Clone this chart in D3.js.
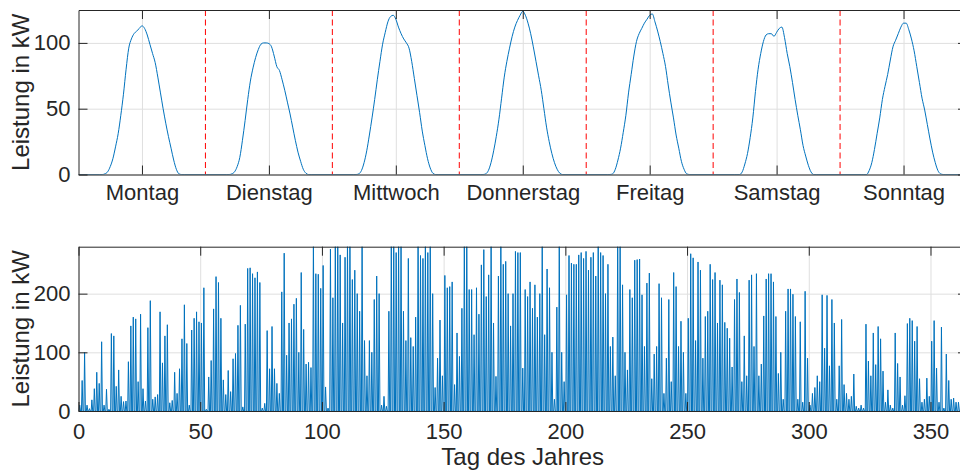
<!DOCTYPE html>
<html lang="de">
<head>
<meta charset="utf-8">
<title>Leistung</title>
<script src="https://cdn.jsdelivr.net/npm/d3@7"></script>
<style>
  body { margin:0; background:#fff; }
  svg text { font-family:"Liberation Sans", Arial, Helvetica, sans-serif; fill:#262626; }
  .grid line { stroke:#dfdfdf; stroke-width:1; }
  .grid path { display:none; }
  .axis path, .axis line { stroke:#262626; stroke-width:1; }
  .axis text { font-size:22px; }
  .label { font-size:24px; }
  .sep { stroke:#ff0000; stroke-width:1; stroke-dasharray:6,3.5; }
  .power { fill:none; stroke:#0072bd; stroke-width:1; }
</style>
</head>
<body>
<script>
// --- Wochenverlauf: Halbstundenwerte von 04:00 bis 20:00 (kW) ---
var dayNames = ["Montag", "Dienstag", "Mittwoch", "Donnerstag", "Freitag", "Samstag", "Sonntag"];
var firstHour = 4, stepHour = 0.5;
var montag     = [0,0,0.5,2,6,12,21,31,45,61,80,96,103,107,109,111,113,111,106,99,92,85,74,62,50,39,29,20,11,4,0.5,0,0];
var dienstag   = [0,0,0.5,2,6,13,26,41,57,71,81,89,95,99,100,100,99.5,97,90,82,79,72,64,55,46,36,26,17,10,4,1,0,0];
var mittwoch   = [0,0,0.5,3,9,18,30,43,57,72,86,99,108,116,120,121,118,112,107,103,100,96,86,73,60,47,33,22,12,5,1,0,0];
var donnerstag = [0,0,0.5,3,9,18,29,42,58,74,86,96,105,112,117,121,124,121,115,107,97,86,75,64,50,36,25,16,9,4,1,0,0];
var freitag    = [0,0,0.5,4,11,20,32,45,62,76,90,101,107,111,115,118,121,122,116,109,101,92,82,68,55,43,30,20,10,4,0.5,0,0];
var samstag    = [0,0,0,2,8,16,28,43,63,80,92,101,106,107,107,105,108,111,112,104,92,82,70,57,45,34,22,14,7,2,0,0,0];
var sonntag    = [0,0,0,3,9,19,31,43,57,67,76,87,97,102,107,112,115,115,110,103,94,82,70,58,49,38,27,17,9,3,0.5,0,0];
var weekDays = [montag, dienstag, mittwoch, donnerstag, freitag, samstag, sonntag];
var weekYTicks = [0, 50, 100];

// --- Jahresverlauf: Tagesspitze je Tag (kW) ---
var yearPeak = [
  10,52,100,10,4,19,38,66,47,118,
  10,37,3,132,128,42,70,25,16,17,
  84,145,160,157,50,165,38,17,142,188,
  20,24,28,169,82,128,147,14,18,66,
  30,72,123,181,115,10,138,158,169,152,
  150,210,3,58,86,174,229,219,158,53,
  28,69,33,89,98,146,180,7,148,243,
  244,234,227,237,219,5,13,137,72,144,
  72,47,30,203,269,95,150,157,182,192,
  100,236,139,80,83,74,300,234,233,209,
  248,41,5,276,193,300,300,266,150,262,
  300,300,224,240,200,170,300,120,60,120,
  100,190,230,200,10,25,8,170,300,300,
  270,300,300,170,120,260,125,110,160,300,
  265,260,300,270,300,200,40,90,155,60,
  231,210,212,220,45,133,93,175,300,300,
  207,207,130,210,165,249,275,195,232,300,
  150,59,230,300,250,255,200,145,200,272,
  270,270,73,207,195,220,175,215,160,200,
  300,130,242,210,100,20,177,300,100,50,
  198,265,252,250,250,266,270,260,272,240,
  262,270,230,300,270,265,200,250,110,126,
  60,300,300,215,100,70,207,193,257,258,
  259,198,110,218,235,55,97,110,217,193,
  30,90,190,50,236,212,110,153,100,30,
  158,268,261,120,254,240,90,161,170,250,
  224,236,150,223,215,151,141,124,75,190,
  225,202,50,128,60,223,232,110,234,60,
  80,162,225,234,234,220,161,64,100,20,
  170,208,208,199,161,20,152,15,204,90,
  10,30,40,60,50,198,107,197,77,190,
  150,20,77,156,45,30,20,25,63,8,
  5,10,5,148,85,60,133,79,144,123,
  68,15,36,10,5,133,81,58,10,26,
  149,158,154,119,144,55,15,20,56,25,
  119,154,73,15,143,5,97,52,20,22,
  15,15,20,10,8
];
var sunrise = 5, sunset = 20;   // Stunde
var yearXTicks = [0, 50, 100, 150, 200, 250, 300, 350];
var yearYTicks = [0, 100, 200];

var W = 960, H = 470;
var left = 78.5, right = 967, tickLen = 9;

var svg = d3.select("body").append("svg")
  .attr("width", W).attr("height", H);

function panel(g, x, y, xTicks, xFmt, yTicks, padX, id) {
  var x0 = x.range()[0], x1 = x.range()[1];
  var y0 = y.range()[0], y1 = y.range()[1];

  g.append("defs").append("clipPath").attr("id", id)
    .append("rect").attr("x", x0).attr("y", y1)
    .attr("width", x1 - x0).attr("height", y0 - y1);

  g.append("g").attr("class", "grid")
    .attr("transform", "translate(0," + y0 + ")")
    .call(d3.axisBottom(x).tickValues(xTicks).tickSize(-(y0 - y1)).tickFormat(""));
  g.append("g").attr("class", "grid")
    .attr("transform", "translate(" + x0 + ",0)")
    .call(d3.axisLeft(y).tickValues(yTicks).tickSize(-(x1 - x0)).tickFormat(""));

  var plot = g.append("g").attr("clip-path", "url(#" + id + ")");

  g.append("g").attr("class", "axis")
    .attr("transform", "translate(0," + y0 + ")")
    .call(d3.axisBottom(x).tickValues(xTicks).tickFormat(xFmt)
      .tickSizeInner(-tickLen).tickSizeOuter(0).tickPadding(padX));
  g.append("g").attr("class", "axis")
    .attr("transform", "translate(0," + y1 + ")")
    .call(d3.axisTop(x).tickValues(xTicks).tickFormat("")
      .tickSizeInner(-tickLen).tickSizeOuter(0));
  g.append("g").attr("class", "axis")
    .attr("transform", "translate(" + x0 + ",0)")
    .call(d3.axisLeft(y).tickValues(yTicks)
      .tickSizeInner(-tickLen).tickSizeOuter(0).tickPadding(8));
  g.append("g").attr("class", "axis")
    .attr("transform", "translate(" + x1 + ",0)")
    .call(d3.axisRight(y).tickValues(yTicks).tickFormat("")
      .tickSizeInner(-tickLen).tickSizeOuter(0));

  g.selectAll(".axis text").attr("fill", "#262626");

  g.append("text").attr("class", "label")
    .attr("transform", "translate(29," + (y0 + y1) / 2 + ") rotate(-90)")
    .attr("text-anchor", "middle")
    .text("Leistung in kW");

  return plot;
}

// ---------- oben: eine Woche ----------
var xW = d3.scaleLinear().domain([0, 168]).range([left, right]);
var yW = d3.scaleLinear().domain([0, 125]).range([174.5, 10]);
var gW = svg.append("g");
var plotW = panel(gW, xW, yW, dayNames.map(function(d, i) { return i * 24 + 12; }),
  function(d) { return dayNames[(d - 12) / 24]; }, weekYTicks, 10, "clipW");

// Trennlinien zwischen den Tagen
plotW.selectAll("line.sep")
  .data(d3.range(1, 7))
  .enter().append("line")
  .attr("class", "sep")
  .attr("x1", function(d) { return xW(d * 24); })
  .attr("x2", function(d) { return xW(d * 24); })
  .attr("y1", yW.range()[1]).attr("y2", yW.range()[0]);

var weekPts = [];
weekDays.forEach(function(vals, d) {
  weekPts.push([d * 24, 0]);
  vals.forEach(function(v, k) { weekPts.push([d * 24 + firstHour + k * stepHour, v]); });
});
weekPts.push([168, 0]);

plotW.append("path")
  .datum(weekPts)
  .attr("class", "power")
  .attr("d", d3.line()
    .x(function(p) { return xW(p[0]); })
    .y(function(p) { return yW(p[1]); })
    .curve(d3.curveMonotoneX));

// ---------- unten: ein Jahr ----------
var xY = d3.scaleLinear().domain([0, 365]).range([left, right]);
var yY = d3.scaleLinear().domain([0, 280]).range([411, 246.7]);
var gY = svg.append("g");
var plotY = panel(gY, xY, yY, yearXTicks, d3.format("d"), yearYTicks, 12, "clipY");

var yearPts = [];
yearPeak.forEach(function(v, d) {
  yearPts.push([d, 0]);
  yearPts.push([d + sunrise / 24, 0]);
  yearPts.push([d + 0.5, v]);
  yearPts.push([d + sunset / 24, 0]);
});
yearPts.push([365, 0]);

plotY.append("path")
  .datum(yearPts)
  .attr("class", "power")
  .attr("stroke", "#1a7fc6")
  .attr("stroke-width", 0.9)
  .attr("d", d3.line()
    .x(function(p) { return xY(p[0]); })
    .y(function(p) { return yY(p[1]); }));

svg.append("text").attr("class", "label")
  .attr("x", (left + right) / 2).attr("y", 465)
  .attr("text-anchor", "middle")
  .text("Tag des Jahres");
</script>
</body>
</html>
